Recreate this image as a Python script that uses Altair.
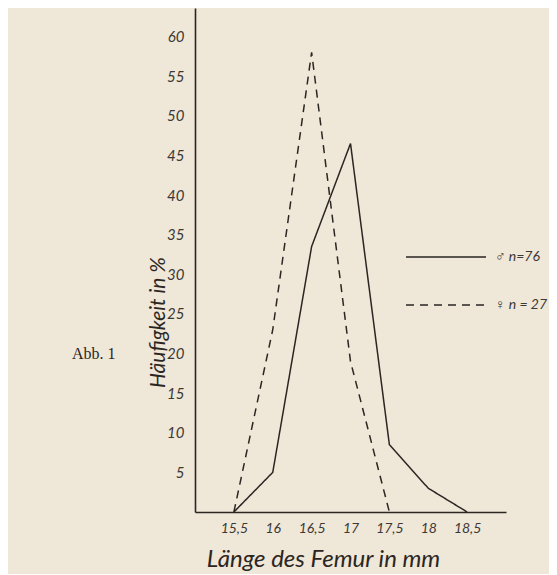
import altair as alt
import pandas as pd

# --- data ---
male_x = [15.5, 16, 16.5, 17, 17.5, 18, 18.5]
male_y = [0, 5, 33.5, 46.5, 8.5, 3, 0]
female_x = [15.5, 16, 16.5, 17, 17.5]
female_y = [0, 23, 58, 19, 0]
series_names = ["♂ n=76", "♀ n = 27"]
x_ticks = [15.5, 16, 16.5, 17, 17.5, 18, 18.5]
y_ticks = [5, 10, 15, 20, 25, 30, 35, 40, 45, 50, 55, 60]
fig_label = ["Abb. 1"]

rows = []
for x, y in zip(male_x, male_y):
    rows.append({"len": x, "pct": y, "sex": series_names[0], "order": x})
for x, y in zip(female_x, female_y):
    rows.append({"len": x, "pct": y, "sex": series_names[1], "order": x})
df = pd.DataFrame(rows)

INK = "#2b2622"
TXT = "#3c3834"
BG = "#efe7d8"
FONT = "Lato"

lines = alt.Chart(df).mark_line(strokeWidth=1.5, color=INK).encode(
    x=alt.X("len:Q",
            scale=alt.Scale(domain=[15, 19], nice=False, zero=False),
            axis=alt.Axis(values=x_ticks, grid=False, ticks=False,
                          domainColor=INK, domainWidth=1.6,
                          labelExpr="replace(toString(datum.value), '.', ',')",
                          labelFont=FONT, labelFontStyle="italic", labelFontSize=14,
                          labelColor=TXT, labelPadding=9,
                          title="Länge des Femur in mm",
                          titleFont=FONT, titleFontStyle="italic", titleFontWeight="normal",
                          titleFontSize=24, titleColor=INK,
                          titleX=128, titleY=47, titleAlign="center",
                          titleBaseline="middle")),
    y=alt.Y("pct:Q",
            scale=alt.Scale(domain=[0, 63.6], nice=False),
            axis=alt.Axis(values=y_ticks, grid=False, ticks=False,
                          domainColor=INK, domainWidth=1.6,
                          labelFont=FONT, labelFontStyle="italic", labelFontSize=15,
                          labelColor=TXT, labelPadding=11,
                          title="Häufigkeit in %",
                          titleFont=FONT, titleFontStyle="italic", titleFontWeight="normal",
                          titleFontSize=21, titleColor=INK,
                          titleX=-37, titleY=314, titleAngle=270,
                          titleAlign="center", titleBaseline="middle")),
    strokeDash=alt.StrokeDash("sex:N",
        scale=alt.Scale(domain=series_names, range=[[1, 0], [8, 6]]),
        legend=alt.Legend(title=None, orient="none", legendX=210, legendY=208,
                          symbolType="stroke", symbolSize=6400,
                          symbolStrokeWidth=1.4, symbolStrokeColor=INK,
                          labelFont=FONT, labelFontStyle="italic", labelFontSize=14,
                          labelColor=TXT, rowPadding=0, labelOffset=8)),
    order="order:Q",
)

abb = alt.Chart(pd.DataFrame({"t": fig_label})).mark_text(
    font="Liberation Serif", fontSize=16, color=INK, align="left", baseline="middle"
).encode(text="t:N", x=alt.value(-123), y=alt.value(346))

chart = alt.layer(lines, abb).properties(
    width=311, height=504,
    autosize=alt.AutoSizeParams(type="none"),
    padding={"left": 187, "top": 0, "right": 43, "bottom": 62},
    background=BG,
).configure_view(stroke=None)

chart.save("out.html", embed_options={"renderer": "svg", "actions": False})
